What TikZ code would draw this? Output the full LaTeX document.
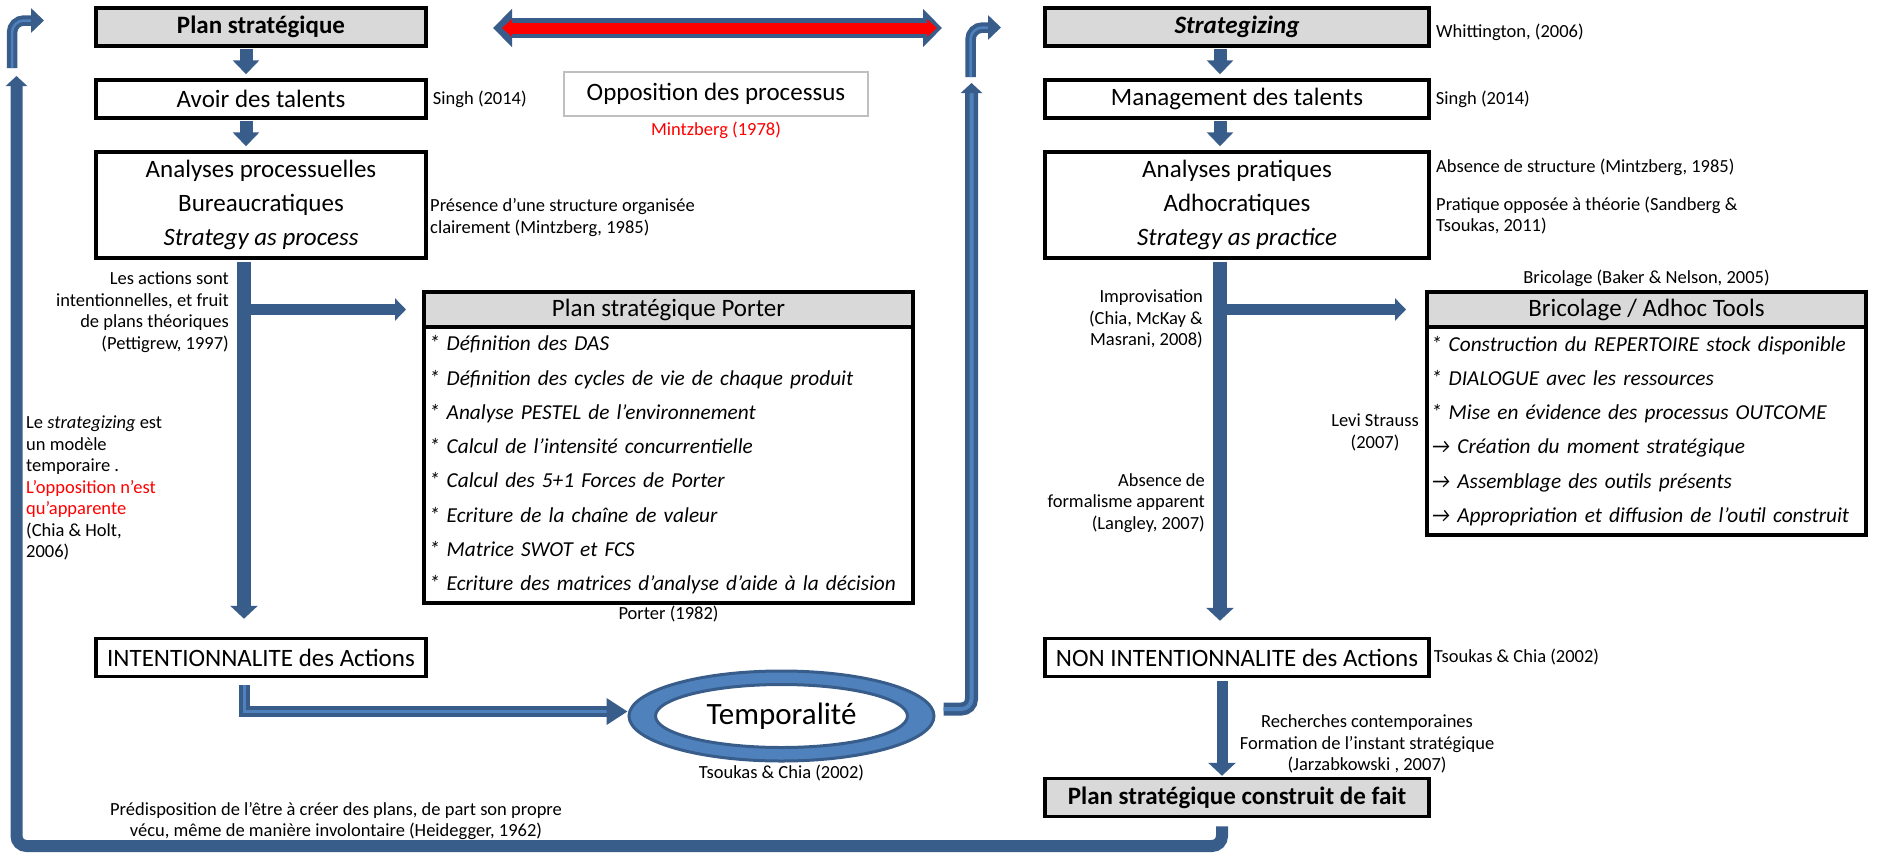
\documentclass[tikz,border=0pt]{standalone}
\usepackage{fontspec}
\setmainfont{Carlito}
\usetikzlibrary{positioning,shapes.geometric,arrows.meta}

\definecolor{arrowblue}{RGB}{56,93,138}
\definecolor{ringblue}{RGB}{79,129,189}
\definecolor{boxgray}{RGB}{217,217,217}
\definecolor{framegray}{RGB}{191,191,191}

\newcommand{\boxfont}{\fontsize{25}{34}\selectfont}
\newcommand{\notefont}{\fontsize{18.5}{21.5}\selectfont}
\newcommand{\itemfont}{\fontsize{21.3}{34.3}\selectfont\itshape}

\tikzset{
  box/.style={draw,line width=3.5pt,minimum height=38pt,inner sep=2pt,font=\boxfont,align=center},
  lbox/.style={box,minimum width=330pt},
  rbox/.style={box,minimum width=384pt},
  grey/.style={fill=boxgray,font=\boxfont\bfseries},
  head/.style={draw,line width=3.5pt,fill=boxgray,minimum height=35pt,outer sep=0pt,font=\boxfont},
  listbox/.style={draw,line width=3.5pt,outer sep=0pt,align=left,font=\itemfont,inner ysep=0pt},
  note/.style={font=\notefont,inner sep=1pt},
  flow/.style={draw=arrowblue,line width=13pt,shorten >=4pt,shorten <=1pt,-{Triangle[width=26pt,length=14pt]}},
  trunk/.style={draw=arrowblue,line width=14pt,-{Triangle[width=27pt,length=13pt]}},
  branch/.style={draw=arrowblue,line width=11pt,-{Triangle[width=22pt,length=11pt]}},
  loopback/.style={draw=arrowblue,line width=12pt,rounded corners=10pt,-{Triangle[width=21pt,length=10pt]}},
  loopmid/.style={draw=arrowblue,double=ringblue,double distance=4pt,line width=4.5pt,rounded corners=10pt,-{Triangle[width=21pt,length=10pt]}},
  bent/.style={draw=arrowblue,double=ringblue,double distance=2.5pt,line width=4pt,rounded corners=12pt,-{Triangle[width=24pt,length=13pt]}},
  bentlong/.style={draw=arrowblue,double=ringblue,double distance=3pt,line width=4pt,-{Triangle[width=26pt,length=21pt]}},
  ring/.style={ellipse,draw=arrowblue,line width=3pt,fill=ringblue,minimum width=305pt,minimum height=90pt,inner sep=0pt},
  ringin/.style={ellipse,draw=arrowblue,line width=3pt,fill=white,minimum width=252pt,minimum height=63pt,inner sep=0pt,font=\fontsize{31}{36}\selectfont}
}

\begin{document}
\begin{tikzpicture}[x=1pt,y=-1pt]
\useasboundingbox (0,0) rectangle (1881,854);

% left column: plan
\node[lbox,grey] (plan) at (261,27) {Plan stratégique};
\node[lbox] (avoir) at (261,99) {Avoir des talents};
\node[lbox,minimum height=106pt] (analyses) at (261,205) {Analyses processuelles\\Bureaucratiques\\\textit{Strategy as process}};
\node[lbox] (intent) at (261,657.5) {INTENTIONNALITE des Actions};

% right column: strategizing
\node[rbox,grey,font=\boxfont\bfseries\itshape] (strat) at (1237,27) {Strategizing};
\node[rbox] (mgmt) at (1237,99) {Management des talents};
\node[rbox,minimum height=106pt] (prat) at (1237,205) {Analyses pratiques\\Adhocratiques\\\textit{Strategy as practice}};
\node[rbox] (nonint) at (1237,657.5) {NON INTENTIONNALITE des Actions};
\node[rbox,grey] (constr) at (1237,797.5) {Plan stratégique construit de fait};

% Porter
\node[head,minimum width=489pt] (porterh) at (668.5,309.5) {Plan stratégique Porter};
\node[listbox,below=0pt of porterh,minimum width=489pt,minimum height=276pt,text width=479pt,inner xsep=5pt] (porter) {%
{*} Définition des DAS\\
{*} Définition des cycles de vie de chaque produit\\
{*} Analyse PESTEL de l'environnement\\
{*} Calcul de l'intensité concurrentielle\\
{*} Calcul des 5+1 Forces de Porter\\
{*} Ecriture de la chaîne de valeur\\
{*} Matrice SWOT et FCS\\
{*} Ecriture des matrices d'analyse d'aide à la décision};

% Bricolage
\node[head,minimum width=439pt] (brich) at (1646.5,309.5) {Bricolage / Adhoc Tools};
\node[listbox,below=0pt of brich,minimum width=439pt,minimum height=208pt,text width=431pt,inner xsep=4pt] (bric) {%
{*} Construction du REPERTOIRE stock disponible\\
{*} DIALOGUE avec les ressources\\
{*} Mise en évidence des processus OUTCOME\\
→ Création du moment stratégique\\
→ Assemblage des outils présents\\
→ Appropriation et diffusion de l'outil construit};

% middle
\node[draw=framegray,line width=2.5pt,minimum width=304pt,minimum height=44pt,font=\boxfont] (oppos) at (716,94) {Opposition des processus};
\node[note,text=red,below=4pt of oppos] (mintz78) {Mintzberg (1978)};
\node[ring] (temps) at (781.5,716) {};
\node[ringin] (tempst) at (temps) {Temporalité};

% references
\node[note,right=4pt of avoir] (singhl) {Singh (2014)};
\node[note,align=left,anchor=west] (presence) at (429,217.5) {Présence d’une structure organisée\\clairement (Mintzberg, 1985)};
\node[note,anchor=west] (whit) at (1435,32) {Whittington, (2006)};
\node[note,right=4pt of mgmt] (singhr) {Singh (2014)};
\node[note,anchor=west] (absstruct) at (1435,167) {Absence de structure (Mintzberg, 1985)};
\node[note,align=left,anchor=west] (pratique) at (1435,215.5) {Pratique opposée à théorie (Sandberg \&\\Tsoukas, 2011)};
\node[note,align=right,anchor=east] (lesactions) at (230,312) {Les actions sont\\intentionnelles, et fruit\\de plans théoriques\\(Pettigrew, 1997)};
\node[note,align=left,anchor=west] (temporaire) at (25,488) {Le \textit{strategizing} est\\un modèle\\temporaire .\\\textcolor{red}{L’opposition n’est}\\\textcolor{red}{qu’apparente}\\(Chia \& Holt,\\2006)};
\node[note,below=2pt of porter] (porter82) {Porter (1982)};
\node[note,below=1pt of temps] (tsoukasl) {Tsoukas \& Chia (2002)};
\node[note,align=center] (heidegger) at (336,821) {Prédisposition de l’être à créer des plans, de part son propre\\vécu, même de manière involontaire (Heidegger, 1962)};
\node[note,align=right,anchor=east] (improv) at (1204,319) {Improvisation\\(Chia, McKay \&\\Masrani, 2008)};
\node[note,above=4pt of brich] (baker) {Bricolage (Baker \& Nelson, 2005)};
\node[note,align=center] (levi) at (1375,432.5) {Levi Strauss\\(2007)};
\node[note,align=right,anchor=east] (langley) at (1206,503) {Absence de\\formalisme apparent\\(Langley, 2007)};
\node[note,right=2pt of nonint] (tsoukasr) {Tsoukas \& Chia (2002)};
\node[note,align=center] (jarz) at (1367,744) {Recherches contemporaines\\Formation de l’instant stratégique\\(Jarzabkowski , 2007)};

% arrows
\coordinate (lmain) at ([xshift=-17pt]analyses.south);
\coordinate (rmain) at ([xshift=-17pt]prat.south);
\draw[flow] ([xshift=-15pt]plan.south) -- ([xshift=-15pt]avoir.north);
\draw[flow] ([xshift=-15pt]avoir.south) -- ([xshift=-15pt]analyses.north);
\draw[flow] ([xshift=-17pt]strat.south) -- ([xshift=-17pt]mgmt.north);
\draw[flow] ([xshift=-17pt]mgmt.south) -- ([xshift=-17pt]prat.north);
\draw[trunk,shorten <=2pt,shorten >=18pt] (lmain) -- ([xshift=-17pt]intent.north);
\draw[trunk,shorten <=2pt,shorten >=16pt] (rmain) -- ([xshift=-17pt]nonint.north);
\draw[branch,shorten >=18pt] (lmain |- porterh.west) -- (porterh.west);
\draw[branch,shorten >=21pt] (rmain |- brich.west) -- (brich.west);
\draw[trunk,line width=11pt,shorten <=3pt,shorten >=1pt] ([xshift=-15pt]nonint.south) -- ([xshift=-15pt]constr.north);
\draw[bentlong,shorten <=7pt] ([xshift=-17pt]intent.south) |- ([yshift=4.5pt]temps.west);

% opposition
\coordinate (oppl) at (493,28);
\coordinate (oppr) at (942,28);
\draw[draw=arrowblue,line width=20pt,{Triangle[width=37pt,length=19pt]}-{Triangle[width=37pt,length=19pt]}] (oppl) -- (oppr);
\draw[draw=red,line width=11pt,shorten <=9pt,shorten >=5pt,{Triangle[width=17pt,length=10pt]}-{Triangle[width=17pt,length=10pt]}] (oppl) -- (oppr);

% loops
\coordinate (ltip) at (16.5,76);
\coordinate (lcorner) at (16.5,846);
\draw[loopback,shorten <=8pt] ([xshift=-15pt]constr.south) |- (lcorner) -- (ltip);
\coordinate (lbent) at (12,68);
\coordinate (lbenttip) at (44,20.5);
\draw[bent] (lbent) |- (lbenttip);
\coordinate (mtip) at (971.5,83);
\draw[loopmid] ([shift={(8pt,7pt)}]temps.east) -| (mtip);
\coordinate (mbent) at (970.5,77);
\coordinate (mbenttip) at (1001,27.5);
\draw[bent] (mbent) |- (mbenttip);
\end{tikzpicture}
\end{document}
